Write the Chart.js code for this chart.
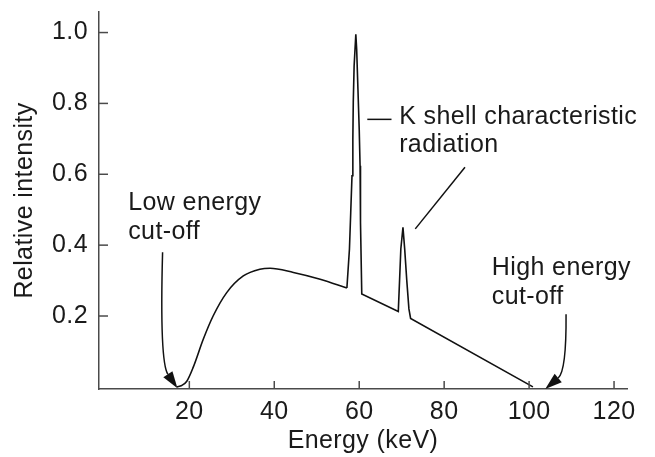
<!DOCTYPE html>
<html>
<head>
<title>X-ray spectrum</title>
<style>
  body { margin: 0; background: #fff; }
  #chart-container { width: 655px; height: 457px; }
</style>
<script src="https://cdn.jsdelivr.net/npm/chart.js@4.4.0/dist/chart.umd.min.js"></script>
</head>
<body>
<div id="chart-container"><canvas id="graphCanvas" width="655" height="457"></canvas></div>
<script>
// continuum (bremsstrahlung), smooth part
var contEnergy = [17.1, 18.2, 19.4, 20.9, 23.3, 25.6, 28.8, 32.7, 36.6, 39.0, 44.5, 50.8, 57.1];
var contIntensity = [0.0, 0.004, 0.016, 0.055, 0.135, 0.2, 0.266, 0.313, 0.332, 0.335, 0.323, 0.304, 0.279];
// characteristic peaks and the straight tail
var peakEnergy = [57.1, 57.7, 58.0, 58.3, 58.5, 58.6, 58.8, 59.2, 59.4, 59.7, 60.0, 60.2, 60.3, 60.6,
  69.2, 69.5, 69.8, 70.3, 70.7, 71.2, 71.7, 72.1, 100.9];
var peakIntensity = [0.279, 0.389, 0.492, 0.596, 0.699, 0.803, 0.906, 0.995, 0.953, 0.84, 0.727, 0.624, 0.464, 0.262,
  0.213, 0.30, 0.39, 0.45, 0.39, 0.30, 0.22, 0.193, 0.0];

var xTicks = [20, 40, 60, 80, 100, 120];
var yTicks = [0.2, 0.4, 0.6, 0.8, 1.0];
var xTitle = 'Energy (keV)';
var yTitle = 'Relative intensity';

// text notes: [energy, intensity] of the left end of each baseline
var notes = [
  { lines: ['Low energy', 'cut-off'], at: [5.6, 0.5], step: 0.082 },
  { lines: ['High energy', 'cut-off'], at: [91.2, 0.316], step: 0.082 },
  { lines: ['K shell characteristic', 'radiation'], at: [69.4, 0.742], step: 0.078 }
];
// curved arrows: start, control, tip
var arrows = [
  { from: [13.7, 0.38], ctrl: [13.0, 0.07], to: [17.2, -0.004] },
  { from: [108.7, 0.205], ctrl: [108.8, 0.045], to: [103.8, -0.006] }
];
// plain leader lines
var leaders = [
  { from: [61.9, 0.755], to: [67.6, 0.755] },
  { from: [84.9, 0.62], to: [73.2, 0.446] }
];

var fontFamily = '"Liberation Sans", Arial, Helvetica, sans-serif';
var fontSize = 25;
var textColor = '#1a1a1a';
var axisColor = '#4a4a4a';

function toXY(chart, p) {
  return [chart.scales.x.getPixelForValue(p[0]), chart.scales.y.getPixelForValue(p[1])];
}

var decorPlugin = {
  id: 'decor',
  beforeDraw: function (chart) {
    chart.ctx.letterSpacing = '0.4px';
  },
  afterDraw: function (chart) {
    var ctx = chart.ctx, xs = chart.scales.x, ys = chart.scales.y, area = chart.chartArea;
    ctx.save();
    ctx.strokeStyle = axisColor;
    ctx.lineWidth = 1.5;
    // tick marks point into the plot
    xTicks.forEach(function (v) {
      var px = xs.getPixelForValue(v);
      ctx.beginPath(); ctx.moveTo(px, area.bottom); ctx.lineTo(px, area.bottom - 8); ctx.stroke();
    });
    yTicks.forEach(function (v) {
      var py = ys.getPixelForValue(v);
      ctx.beginPath(); ctx.moveTo(area.left, py); ctx.lineTo(area.left + 9, py); ctx.stroke();
    });

    ctx.strokeStyle = '#111';
    ctx.fillStyle = '#111';
    ctx.lineWidth = 1.5;
    leaders.forEach(function (l) {
      var a = toXY(chart, l.from), b = toXY(chart, l.to);
      ctx.beginPath(); ctx.moveTo(a[0], a[1]); ctx.lineTo(b[0], b[1]); ctx.stroke();
    });
    arrows.forEach(function (ar) {
      var a = toXY(chart, ar.from), c = toXY(chart, ar.ctrl), t = toXY(chart, ar.to);
      var ang = Math.atan2(t[1] - c[1], t[0] - c[0]);
      var len = 17, half = 5.5;
      var bx = t[0] - len * Math.cos(ang), by = t[1] - len * Math.sin(ang);
      ctx.beginPath(); ctx.moveTo(a[0], a[1]); ctx.quadraticCurveTo(c[0], c[1], bx, by); ctx.stroke();
      ctx.beginPath();
      ctx.moveTo(t[0], t[1]);
      ctx.lineTo(bx + half * Math.sin(ang), by - half * Math.cos(ang));
      ctx.lineTo(bx - half * Math.sin(ang), by + half * Math.cos(ang));
      ctx.closePath(); ctx.fill();
    });

    ctx.fillStyle = textColor;
    ctx.font = fontSize + 'px ' + fontFamily;
    ctx.textAlign = 'left';
    ctx.textBaseline = 'alphabetic';
    notes.forEach(function (n) {
      n.lines.forEach(function (s, i) {
        var p = toXY(chart, [n.at[0], n.at[1] - i * n.step]);
        ctx.fillText(s, p[0], p[1]);
      });
    });
    ctx.restore();
  }
};

var chartdata = {
  datasets: [
    {
      label: 'continuum',
      data: contEnergy.map(function (e, i) { return { x: e, y: contIntensity[i] }; }),
      borderColor: '#111',
      borderWidth: 1.6,
      pointRadius: 0,
      cubicInterpolationMode: 'monotone',
      showLine: true
    },
    {
      label: 'peaks',
      data: peakEnergy.map(function (e, i) { return { x: e, y: peakIntensity[i] }; }),
      borderColor: '#111',
      borderWidth: 1.6,
      pointRadius: 0,
      tension: 0,
      showLine: true
    }
  ]
};

var graphTarget = document.getElementById('graphCanvas');
var chart = new Chart(graphTarget, {
  type: 'scatter',
  data: chartdata,
  options: {
    responsive: false,
    animation: false,
    devicePixelRatio: 1,
    layout: { padding: { left: 0, top: 12, right: 28, bottom: 0 } },
    plugins: { legend: { display: false }, tooltip: { enabled: false } },
    scales: {
      x: {
        type: 'linear',
        min: -1.27,
        max: 123.05,
        grid: { display: false, drawTicks: false },
        border: { display: true, color: axisColor, width: 1.5 },
        afterBuildTicks: function (s) { s.ticks = xTicks.map(function (v) { return { value: v }; }); },
        afterFit: function (s) { s.height = 68; s.paddingLeft = 0; s.paddingRight = 0; },
        ticks: {
          color: textColor,
          padding: 8,
          maxRotation: 0,
          autoSkip: false,
          font: { family: fontFamily, size: fontSize },
          callback: function (v) { return String(v); }
        },
        title: {
          display: true,
          text: xTitle,
          color: textColor,
          font: { family: fontFamily, size: fontSize },
          padding: { top: 0, bottom: 1 }
        }
      },
      y: {
        type: 'linear',
        min: -0.006,
        max: 1.058,
        grid: { display: false, drawTicks: false },
        border: { display: true, color: axisColor, width: 1.5 },
        afterBuildTicks: function (s) { s.ticks = yTicks.map(function (v) { return { value: v }; }); },
        afterFit: function (s) { s.width = 99; s.paddingTop = 0; s.paddingBottom = 0; },
        ticks: {
          color: textColor,
          padding: 11,
          autoSkip: false,
          font: { family: fontFamily, size: fontSize },
          callback: function (v) { return v.toFixed(1); }
        },
        title: {
          display: true,
          text: yTitle,
          color: textColor,
          font: { family: fontFamily, size: fontSize },
          padding: { top: 10, bottom: 0 }
        }
      }
    }
  },
  plugins: [decorPlugin]
});
</script>
</body>
</html>
